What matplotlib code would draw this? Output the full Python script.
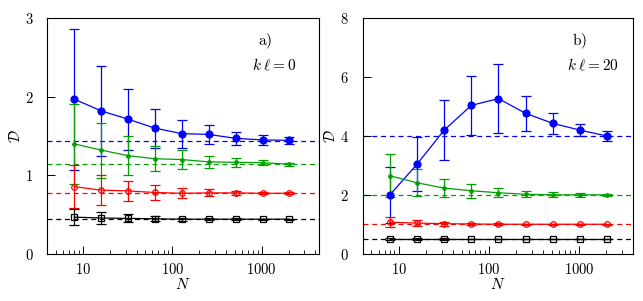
import matplotlib
matplotlib.use("Agg")
import matplotlib.pyplot as plt
from matplotlib.ticker import FuncFormatter, LogLocator, NullFormatter

plt.rcParams['mathtext.fontset'] = 'cm'
plt.rcParams['font.family'] = 'serif'
plt.rcParams['font.serif'] = ['DejaVu Serif']

N = [8, 16, 32, 64, 128, 256, 512, 1024, 2048]

# panel a) k l = 0
a_blue = [1.97, 1.82, 1.715, 1.60, 1.53, 1.52, 1.47, 1.45, 1.445]
a_blue_err = [0.90, 0.57, 0.39, 0.25, 0.18, 0.12, 0.08, 0.06, 0.045]
a_green = [1.40, 1.32, 1.25, 1.21, 1.20, 1.17, 1.165, 1.16, 1.14]
a_green_err = [0.51, 0.35, 0.25, 0.16, 0.12, 0.075, 0.055, 0.03, 0.02]
a_red = [0.855, 0.81, 0.80, 0.78, 0.77, 0.775, 0.775, 0.77, 0.77]
a_red_err = [0.27, 0.19, 0.13, 0.10, 0.065, 0.045, 0.03, 0.015, 0.01]
a_black = [0.466, 0.455, 0.45, 0.445, 0.44, 0.44, 0.44, 0.44, 0.44]
a_black_err = [0.10, 0.075, 0.05, 0.03, 0.02, 0.015, 0.01, 0.008, 0.005]
a_limits = [1.44, 1.14, 0.77, 0.44]

# panel b) k l = 20
b_blue = [2.0, 3.04, 4.2, 5.04, 5.27, 4.77, 4.43, 4.2, 4.0]
b_blue_err = [0.96, 0.92, 1.02, 1.0, 1.16, 0.6, 0.36, 0.2, 0.17]
b_green = [2.65, 2.41, 2.23, 2.14, 2.07, 2.02, 2.0, 2.0, 2.0]
b_green_err = [0.73, 0.46, 0.30, 0.24, 0.15, 0.11, 0.08, 0.06, 0.03]
b_red = [1.07, 1.04, 1.02, 1.01, 1.0, 1.0, 1.0, 1.0, 1.0]
b_red_err = [0.17, 0.10, 0.07, 0.05, 0.04, 0.02, 0.02, 0.02, 0.02]
b_black = [0.5, 0.5, 0.5, 0.5, 0.5, 0.5, 0.5, 0.5, 0.5]
b_black_err = [0.04, 0.02, 0.02, 0.01, 0.01, 0.01, 0.01, 0.01, 0.01]
b_limits = [4.0, 2.0, 1.0, 0.5]

colors = ['#0000ff', '#00a000', '#ff0000', 'black']
markers = [dict(marker='o', ms=5, mfc='#0000ff'),
           dict(marker='o', ms=2.5, mfc='#00a000'),
           dict(marker='o', ms=4, mfc='none'),
           dict(marker='s', ms=3.8, mfc='none')]


def draw_panel(ax, series, limits, xlim, ylim, yticks, tag, label):
    for (y, err), c, m, lim in zip(series, colors, markers, limits):
        ax.axhline(lim, color=c, ls='--', lw=0.9, dashes=(4, 3), zorder=1)
        ax.errorbar(N, y, yerr=err, color=c, ecolor=c, lw=0.9, elinewidth=0.9,
                    capsize=3.5, capthick=0.9, mec=c, mew=0.9, zorder=3, **m)
    ax.set_xscale('log')
    ax.set_xlim(*xlim)
    ax.set_ylim(*ylim)
    ax.set_yticks(yticks)
    ax.xaxis.set_major_locator(LogLocator(base=10, numticks=10))
    ax.xaxis.set_minor_locator(LogLocator(base=10, subs=range(2, 10), numticks=10))
    ax.xaxis.set_minor_formatter(NullFormatter())
    ax.xaxis.set_major_formatter(FuncFormatter(lambda v, p: r'$%d$' % round(v)))
    ax.yaxis.set_major_formatter(FuncFormatter(lambda v, p: r'$%d$' % round(v)))
    ax.tick_params(which='major', direction='in', length=6, width=0.7, labelsize=10.5)
    ax.tick_params(axis='x', which='major', pad=6)
    ax.tick_params(axis='y', which='major', pad=10)
    ax.tick_params(which='minor', direction='in', length=3, width=0.6)
    ax.tick_params(axis='y', which='minor', left=False)
    ax.set_xlabel(r'$N$', fontsize=11, labelpad=0)
    ax.set_ylabel(r'$\mathcal{D}$', fontsize=11, labelpad=1)
    ax.text(0.775, 0.90, tag, transform=ax.transAxes, fontsize=11, va='center', ha='left')
    ax.text(0.755, 0.80, label, transform=ax.transAxes, fontsize=11, va='center', ha='left')
    for s in ax.spines.values():
        s.set_linewidth(0.8)


fig = plt.figure(figsize=(6.43, 3.01), dpi=100)
ax1 = fig.add_axes([47.3 / 643, 47.3 / 301, (318.7 - 47.3) / 643, (253.7 - 18.3) / 301])
ax2 = fig.add_axes([362.7 / 643, 47.3 / 301, (633.3 - 362.7) / 643, (253.7 - 18.3) / 301])

draw_panel(ax1, [(a_blue, a_blue_err), (a_green, a_green_err), (a_red, a_red_err), (a_black, a_black_err)],
           a_limits, (4, 4350), (0, 3), [0, 1, 2, 3], r'$\mathrm{a)}$', r'$k\;\ell = 0$')
draw_panel(ax2, [(b_blue, b_blue_err), (b_green, b_green_err), (b_red, b_red_err), (b_black, b_black_err)],
           b_limits, (4, 4000), (0, 8), [0, 2, 4, 6, 8], r'$\mathrm{b)}$', r'$k\;\ell = 20$')

fig.savefig('out.png', dpi=100)
